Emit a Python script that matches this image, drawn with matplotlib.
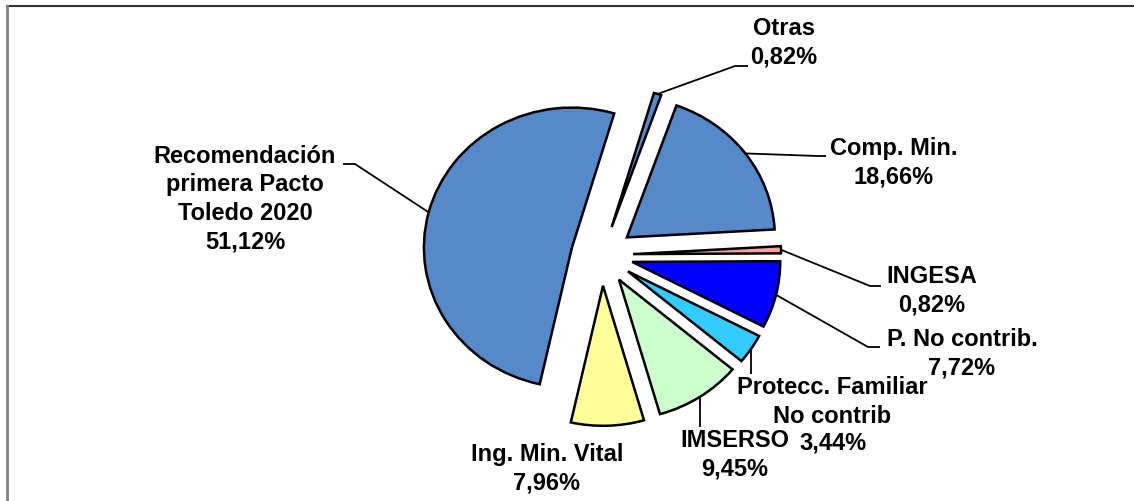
import numpy as np
import matplotlib
matplotlib.use("Agg")
import matplotlib.pyplot as plt
from matplotlib.lines import Line2D

plt.rcParams['font.family'] = ['Liberation Sans', 'DejaVu Sans']

# datos (orden antihorario desde la cuña "P. No contrib.")
names = ["P. No contrib.", "INGESA", "Comp. Min.", "Otras",
         "Recomendación\nprimera Pacto\nToledo 2020", "Ing. Min. Vital",
         "IMSERSO", "Protecc. Familiar\nNo contrib"]
shares = [7.72, 0.82, 18.66, 0.82, 51.12, 7.96, 9.45, 3.44]
colors = ["#0000FF", "#F4A3A3", "#5689C9", "#5689C9",
          "#5689C9", "#FFFF99", "#CCFFCC", "#33CCFF"]
explode = [0.21, 0.21, 0.21, 0.21, 0.21, 0.22, 0.21, 0.21]

W, H = 1134, 502
fig = plt.figure(figsize=(W / 100, H / 100), dpi=100)
fig.patch.set_facecolor("white")

# pie en ejes propios, ligeramente ovalado
cx, cy, rx, ry, lim = 602, 256, 148, 140, 1.5
ax = fig.add_axes([(cx - lim * rx) / W, (H - cy - lim * ry) / H,
                   2 * lim * rx / W, 2 * lim * ry / H])
wedges, _ = ax.pie(shares, colors=colors, explode=explode, startangle=-27.5,
                   counterclock=True, normalize=True,
                   wedgeprops=dict(edgecolor="black", linewidth=1.8))
ax.set_aspect("auto")
ax.set_xlim(-lim, lim)
ax.set_ylim(-lim, lim)
ax.axis("off")

# capa de etiquetas en pixeles
ov = fig.add_axes([0, 0, 1, 1])
ov.set_xlim(0, W)
ov.set_ylim(H, 0)
ov.axis("off")


def anchor(w):
    t = np.radians((w.theta1 + w.theta2) / 2)
    p = (w.center[0] + w.r * np.cos(t), w.center[1] + w.r * np.sin(t))
    disp = ax.transData.transform(p)
    return ov.transData.inverted().transform(disp)


# posicion del texto (centro) y quiebre de la linea guia
text_pos = [(962, 354), (932, 291), (894, 163), (784, 43),
            (245, 199), (547, 469), (735, 455), (832, 402)]
# el porcentaje de Protecc. va aparte, a la derecha de "IMSERSO"
pct_apart = {7: (833, 443)}
elbows = [[(868, 348), (880, 348)],
          [(870, 287), (881, 287)],
          [(818, 157), (826, 157)],
          [(735, 67), (748, 67)],
          [(355, 165), (343, 165)],
          None,
          ["v", 428],
          ["v", 375]]

style = dict(ha="center", va="center", multialignment="center", fontsize=17,
             fontweight="bold", linespacing=1.3, color="black")

for i, w in enumerate(wedges):
    pct = f"{shares[i]:.2f}".replace(".", ",") + "%"
    tx, ty = text_pos[i]
    if i in pct_apart:
        ov.text(tx, ty, names[i], **style)
        ov.text(*pct_apart[i], pct, **style)
    else:
        ov.text(tx, ty, names[i] + "\n" + pct, **style)
    e = elbows[i]
    if e is None:
        continue
    a = anchor(w)
    if e[0] == "v":
        pts = [tuple(a), (a[0], e[1])]
    else:
        pts = [tuple(a)] + e
    xs, ys = zip(*pts)
    ov.plot(xs, ys, color="black", linewidth=1.3, solid_capstyle="butt")

# marco del grafico
fig.add_artist(Line2D([7 / W, 1], [1 - 7 / H, 1 - 7 / H],
                      transform=fig.transFigure, color="#333333", linewidth=1.5))
fig.add_artist(Line2D([7 / W, 7 / W], [0, 1 - 7 / H],
                      transform=fig.transFigure, color="#808080", linewidth=2))

fig.savefig("out.png", dpi=100)
